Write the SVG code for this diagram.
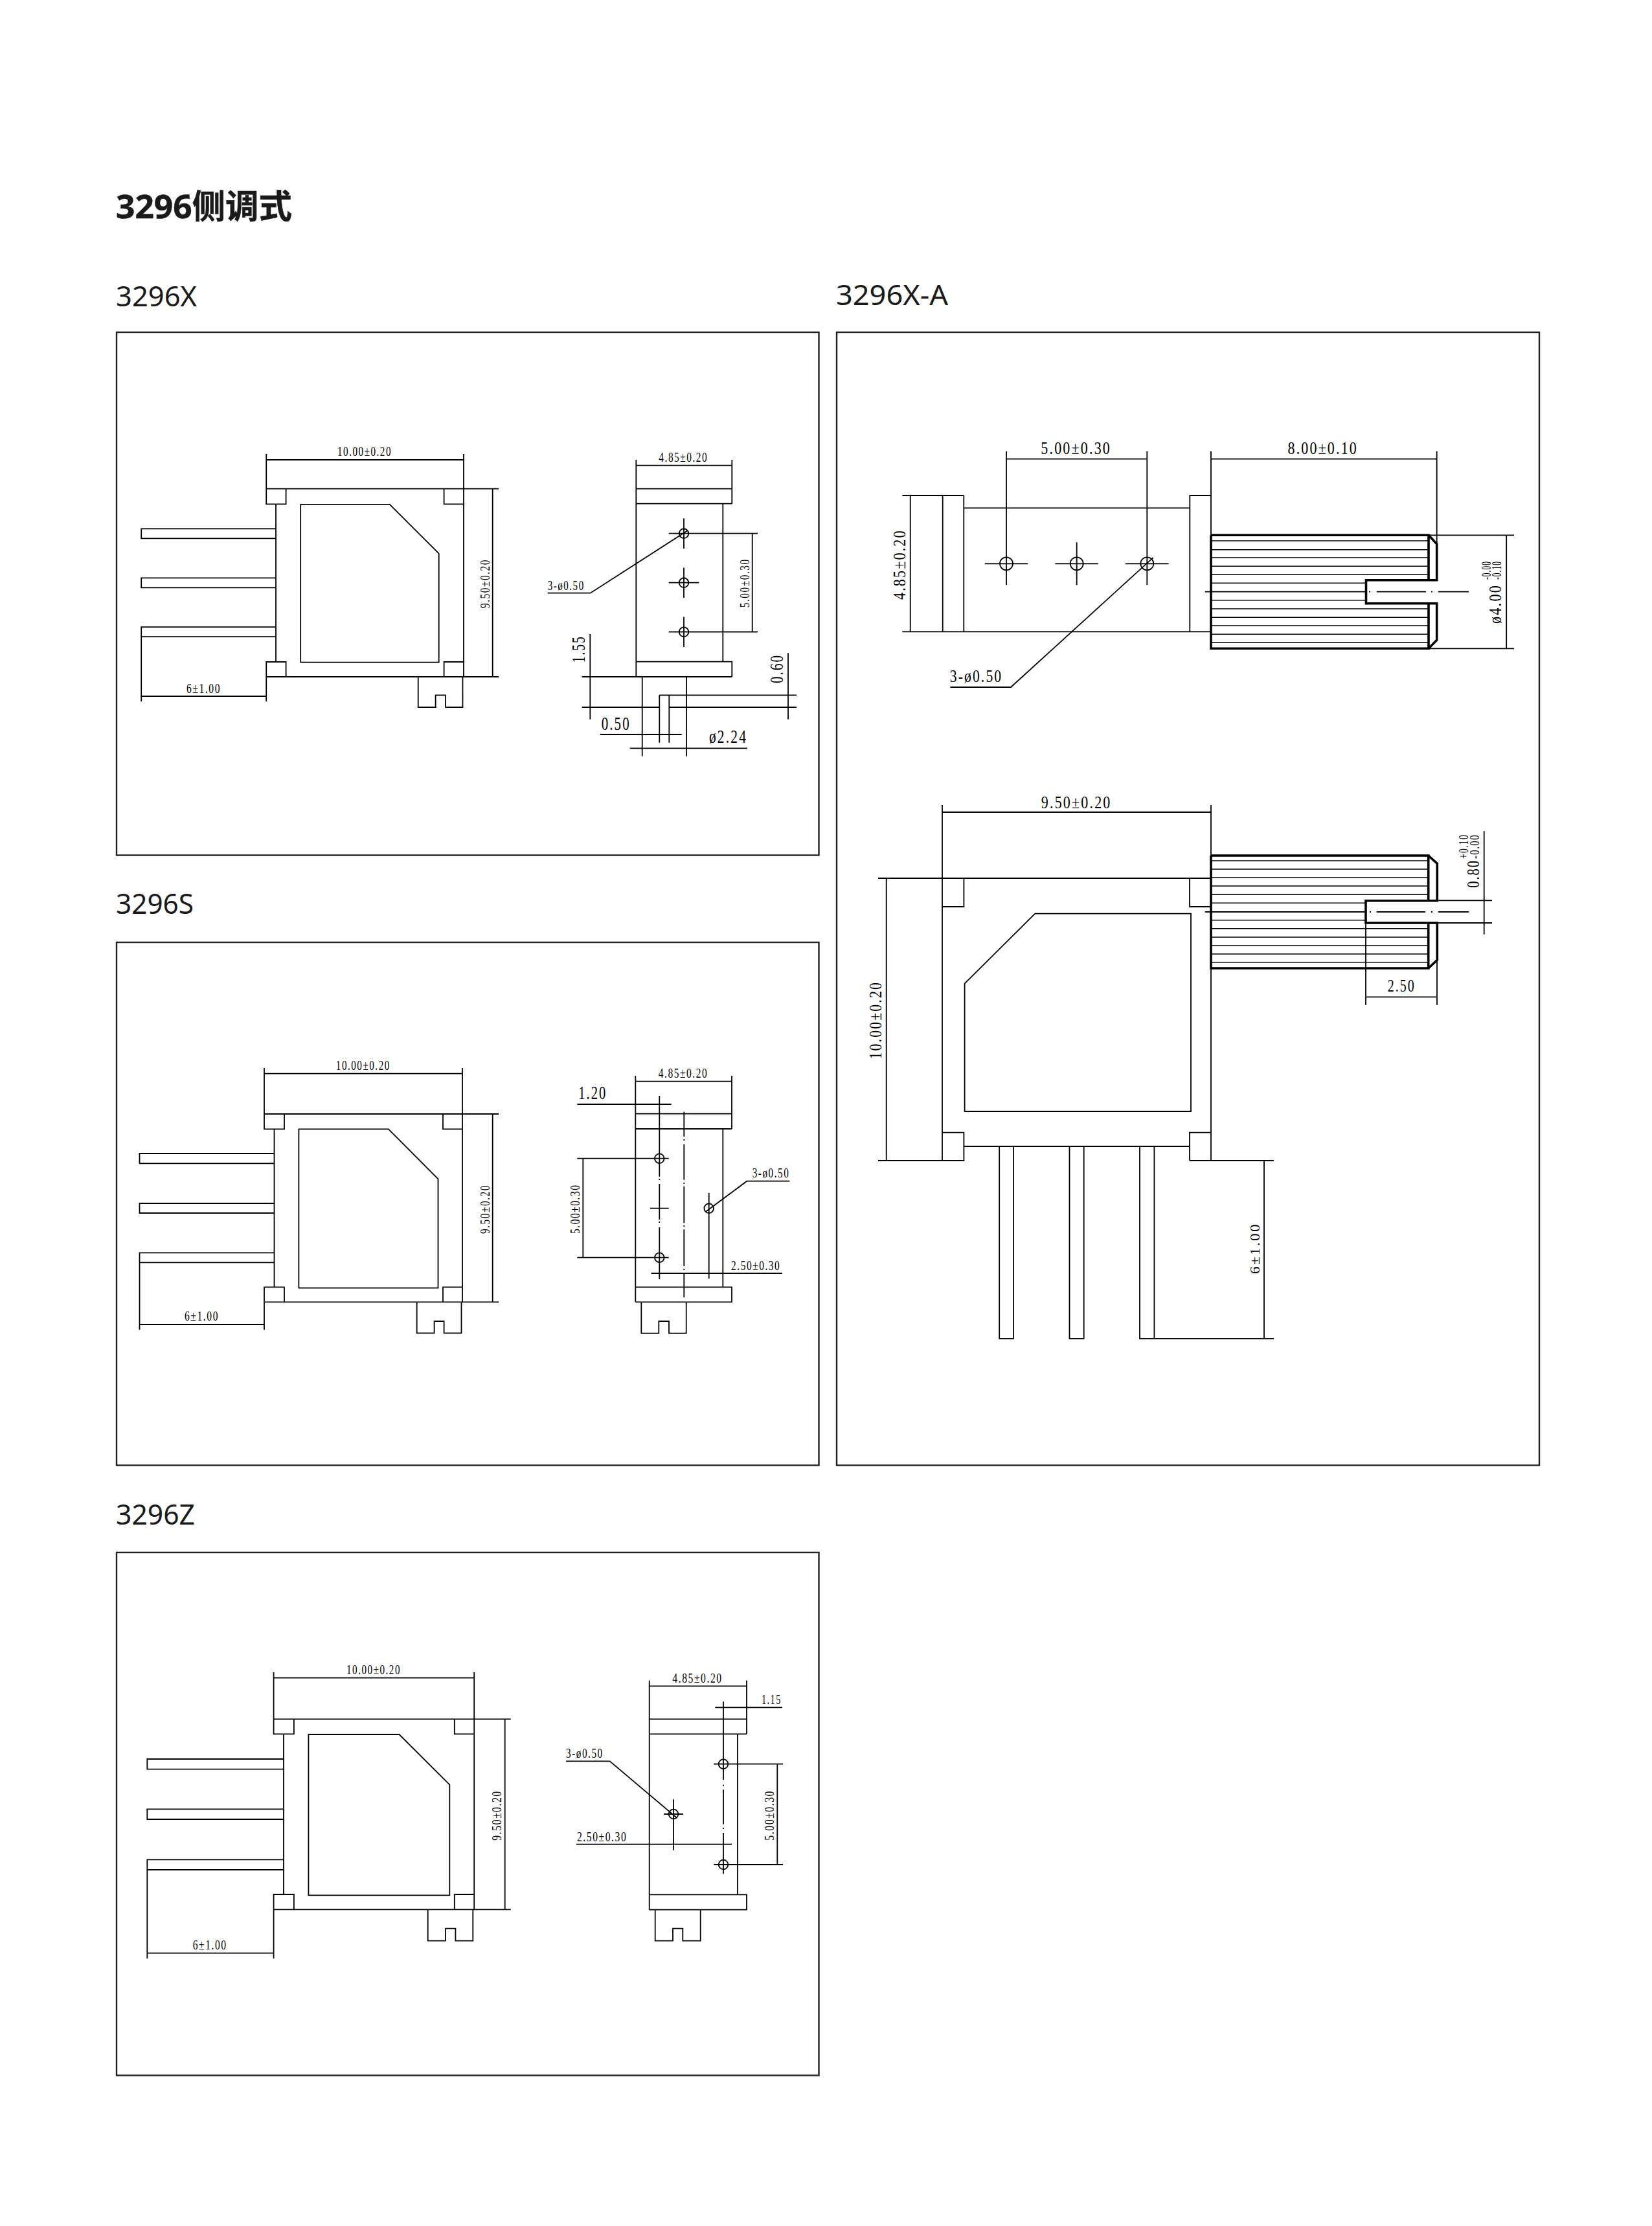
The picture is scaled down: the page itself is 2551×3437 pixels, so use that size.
<svg xmlns="http://www.w3.org/2000/svg" width="2551" height="3437" viewBox="0 0 2551 3437">
<style>
.l{fill:none;stroke:#000;stroke-width:1.8}
.r{fill:none;stroke:#000;stroke-width:1.5}
.k{fill:none;stroke:#000;stroke-width:3.6}
.f{fill:none;stroke:#222;stroke-width:2.4}
.t{font-family:"Liberation Serif",serif;fill:#000;letter-spacing:.1em}
.h{font-family:"Noto Sans","Noto Sans CJK SC",sans-serif;font-size:43px;fill:#1a1a1a}
.b{font-family:"Noto Sans","Noto Sans CJK SC",sans-serif;font-size:51px;font-weight:700;fill:#1a1a1a;stroke:#1a1a1a;stroke-width:.5}
</style>
<rect width="2551" height="3437" fill="#fff"/>
<g id="headings">
<text class="b" x="179" y="337" textLength="272" lengthAdjust="spacingAndGlyphs">3296侧调式</text>
<text class="h" x="179" y="473" textLength="125" lengthAdjust="spacingAndGlyphs">3296X</text>
<text class="h" x="1291" y="471" textLength="173" lengthAdjust="spacingAndGlyphs">3296X-A</text>
<text class="h" x="179" y="1410.7" textLength="120" lengthAdjust="spacingAndGlyphs">3296S</text>
<text class="h" x="179" y="2353.5" textLength="122" lengthAdjust="spacingAndGlyphs">3296Z</text>
</g>
<g id="frames">
<rect class="f" x="180" y="513" width="1084.5" height="807.5"/>
<rect class="f" x="180" y="1455" width="1084.5" height="807.5"/>
<rect class="f" x="180" y="2397" width="1084.5" height="807.5"/>
<rect class="f" x="1292" y="513" width="1085" height="1749.5"/>
</g>
<g id="x-front">
<path class="l" d="M411.2 710H716M411.2 701V778.4H441.6V754.6M716 701V1045M411.2 754.6H770M411.2 1045H770M685.6 754.6V778.4H716M411.2 1045V1022H441.6V1045M685.6 1045V1022H716M426 778.4V1022M464.2 778.8H601.8L677.7 854.7V1022.7H464.2ZM426 816.3H218.2V831.4H426M426 892.3H218.2V907.3H426M426 968.2H218.2V983.2H426M218.2 983.2V1083M411.2 1045V1083M218.2 1075H411.2M760.7 754.6V1045M645.7 1045V1092H672.6V1073.4H688V1092H714.5V1045"/>
<text class="t" x="521" y="704" font-size="20" textLength="84" lengthAdjust="spacingAndGlyphs">10.00±0.20</text>
<text class="t" x="288" y="1070" font-size="20" textLength="53" lengthAdjust="spacingAndGlyphs">6±1.00</text>
<text class="t" transform="translate(756 939) rotate(-90)" font-size="20" textLength="76" lengthAdjust="spacingAndGlyphs">9.50±0.20</text>
</g>
<g id="x-side">
<path class="l" d="M982.3 718.7H1130.3M982.3 710V1045M1130.3 710V777.7M982.3 754.7H1130.3M982.3 777.7H1130.3M1116.3 777.7V1021.7M982.3 1021.7H1130.3V1045M898.7 1045H1130.3"/>
<circle class="l" cx="1056" cy="823.7" r="7.3"/><circle class="l" cx="1056" cy="899.7" r="7.3"/><circle class="l" cx="1056" cy="975.7" r="7.3"/>
<path class="l" d="M1056 800.4V847M1032.7 823.7H1079.3M1056 876.4V923M1032.7 899.7H1079.3M1056 952.4V999M1032.7 975.7H1079.3M1056 823.7H1170M1056 975.7H1170M1161.7 823.7V975.7M1061.7 819.3L911.7 915.7H845.7"/>
<path class="l" d="M911.3 979V1110.7M898.7 1092H1018.3M1033.3 1092H1230M1018.3 1073.3H1230M991.7 1045V1167.7M1060 1045V1167.7M1018.3 1073.3V1146.7M1033.3 1073.3V1146.7M926.7 1134H1052.7M972.7 1155.3H1154M1217 1008.3V1110.7"/>
<text class="t" x="1017.3" y="713.3" font-size="20" textLength="76" lengthAdjust="spacingAndGlyphs">4.85±0.20</text>
<text class="t" transform="translate(1156.7 938.3) rotate(-90)" font-size="20" textLength="76" lengthAdjust="spacingAndGlyphs">5.00±0.30</text>
<text class="t" x="845.7" y="910.7" font-size="20" textLength="57" lengthAdjust="spacingAndGlyphs">3-ø0.50</text>
<text class="t" transform="translate(903.3 1023.3) rotate(-90)" font-size="30" textLength="42" lengthAdjust="spacingAndGlyphs">1.55</text>
<text class="t" x="928.7" y="1126.7" font-size="30" textLength="45" lengthAdjust="spacingAndGlyphs">0.50</text>
<text class="t" x="1095" y="1146.7" font-size="30" textLength="59" lengthAdjust="spacingAndGlyphs">ø2.24</text>
<text class="t" transform="translate(1209.3 1055) rotate(-90)" font-size="30" textLength="45" lengthAdjust="spacingAndGlyphs">0.60</text>
</g>
<g id="s-front">
<path class="l" d="M408 1657.7H714M408 1649V1743.3H439V1720M714 1649V2010.3M408 1720H770M408 2010.3H770M684 1720V1743.3H714M408 2010.3V1987.3H439V2010.3M684 2010.3V1987.3H714M423.5 1743.3V1987.3M461.4 1743.3H599.8L676.5 1820.3V1988.7H461.4ZM423.5 1781H215.5V1796.3H423.5M423.5 1858H215.5V1873H423.5M423.5 1934.3H215.5V1949.3H423.5M215.5 1949.3V2053.3M408 2010.3V2053.3M215.5 2045H408M760.7 1720V2010.3M643.7 2010.3V2058.3H670.6V2040H685.6V2058.3H712.5V2010.3"/>
<text class="t" x="518.8" y="1651.7" font-size="20" textLength="84" lengthAdjust="spacingAndGlyphs">10.00±0.20</text>
<text class="t" x="285" y="2039.3" font-size="20" textLength="53" lengthAdjust="spacingAndGlyphs">6±1.00</text>
<text class="t" transform="translate(756 1905) rotate(-90)" font-size="20" textLength="76" lengthAdjust="spacingAndGlyphs">9.50±0.20</text>
</g>
<g id="s-side">
<path class="l" d="M981.3 1669.7H1130M981.3 1661V2010.3M1130 1661V1743M981.3 1719.7H1130M981.3 1743H1130M1116.3 1743V1987.3M981.3 1987.3H1130V2010.3H981.3M891.3 1705H1036.7"/>
<path class="l" d="M1018.3 1692V1816.7M1018.3 1820V1822M1018.3 1828V1883.3M1018.3 1886V1888M1018.3 1895V1975M1056.3 1716.7V1755M1056.3 1759V1761M1056.3 1766.7V1821.7M1056.3 1826V1828M1056.3 1831.7V1888.3M1056.3 1892V1894M1056.3 1898.3V1955M1056.3 1959V1961M1056.3 1966.7V2003.3"/>
<circle class="l" cx="1018.3" cy="1788.7" r="7.3"/><circle class="l" cx="1018.3" cy="1941.7" r="7.3"/><circle class="l" cx="1094.7" cy="1865.7" r="7.3"/>
<path class="l" d="M1004 1865.7H1032.7M891.3 1788.7H1032.7M891.3 1941.7H1032.7M900.3 1788.7V1941.7M1094.7 1841.7V1974.3M1090 1870.7L1153.3 1823.7H1219.3M1005.7 1966H1208M990.3 2010.3V2058.7H1017.3V2040H1033V2058.7H1059.7V2010.3"/>
<text class="t" x="1016.7" y="1664" font-size="20" textLength="76.6" lengthAdjust="spacingAndGlyphs">4.85±0.20</text>
<text class="t" x="893.3" y="1697.3" font-size="30" textLength="44" lengthAdjust="spacingAndGlyphs">1.20</text>
<text class="t" transform="translate(895.3 1905) rotate(-90)" font-size="20" textLength="76.6" lengthAdjust="spacingAndGlyphs">5.00±0.30</text>
<text class="t" x="1161.7" y="1818.3" font-size="20" textLength="57.6" lengthAdjust="spacingAndGlyphs">3-ø0.50</text>
<text class="t" x="1129" y="1960.7" font-size="20" textLength="76.3" lengthAdjust="spacingAndGlyphs">2.50±0.30</text>
</g>
<g id="z-front">
<path class="l" d="M422.6 2590.7H732.2M422.6 2582V2677.3H453.9V2654.3M732.2 2582V2948.3M422.6 2654.3H788.8M422.6 2948.3H788.8M701.8 2654.3V2677.3H732.2M422.6 2948.3V2925H453.9V2948.3M701.8 2948.3V2925H732.2M438 2677.3V2925M476.4 2678H616.4L694.3 2755.7V2926.3H476.4ZM438 2716H227.3V2731.7H438M438 2793.3H227.3V2809H438M438 2871.3H227.3V2887H438M227.3 2887V3024M422.6 2948.3V3024M227.3 3015.7H422.6M779.7 2654.3V2948.3M660.7 2948.3V2996.7H688V2977.7H703.4V2996.7H730.3V2948.3"/>
<text class="t" x="535" y="2585.3" font-size="20" textLength="84" lengthAdjust="spacingAndGlyphs">10.00±0.20</text>
<text class="t" x="297.7" y="3010" font-size="20" textLength="53" lengthAdjust="spacingAndGlyphs">6±1.00</text>
<text class="t" transform="translate(774 2841.7) rotate(-90)" font-size="20" textLength="77.4" lengthAdjust="spacingAndGlyphs">9.50±0.20</text>
</g>
<g id="z-side">
<path class="l" d="M1002.7 2603.3H1153M1002.7 2594.7V2948.7M1153 2594.7V2677.3M1002.7 2654.3H1153M1002.7 2677.3H1153M1139 2677.3V2925.3M1002.7 2925.3H1153V2948.7H1002.7M1104.3 2636.3H1208"/>
<path class="l" d="M1117 2627.3V2748.3M1117 2755.7V2757.7M1117 2763.3V2816.7M1117 2822V2824M1117 2830V2893.3"/>
<circle class="l" cx="1117" cy="2723.7" r="7.3"/><circle class="l" cx="1117" cy="2879" r="7.3"/><circle class="l" cx="1040" cy="2801" r="7.3"/>
<path class="l" d="M1102.3 2723.7H1209M1102.3 2879H1209M1200.3 2723.7V2879M1025 2801H1055M1040 2778.3V2856.7M1045 2806.7L941.7 2719.3H874M890 2847.7H1130M1011.7 2948.7V2996.7H1039V2977.7H1054.3V2996.7H1081.7V2948.7"/>
<text class="t" x="1038.3" y="2598" font-size="20" textLength="77.4" lengthAdjust="spacingAndGlyphs">4.85±0.20</text>
<text class="t" x="1176" y="2631" font-size="20" textLength="30.7" lengthAdjust="spacingAndGlyphs">1.15</text>
<text class="t" transform="translate(1195 2841.7) rotate(-90)" font-size="20" textLength="77.7" lengthAdjust="spacingAndGlyphs">5.00±0.30</text>
<text class="t" x="874" y="2714" font-size="20" textLength="57.7" lengthAdjust="spacingAndGlyphs">3-ø0.50</text>
<text class="t" x="891" y="2842.7" font-size="20" textLength="77.3" lengthAdjust="spacingAndGlyphs">2.50±0.30</text>
</g>
<g id="xa-top">
<path class="l" d="M1554 708.7H1771.3M1554 696.7V903.3M1771.3 696.7V903.3M1393.3 765H1488.3M1393.3 975.3H1870M1405.7 765V975.3M1455.7 765V975.3M1488.3 765V975.3M1488.3 784.3H1837.3M1837.3 975.3V765H1870"/>
<circle class="l" cx="1554" cy="870.3" r="10"/><circle class="l" cx="1662.7" cy="870.3" r="10"/><circle class="l" cx="1771.3" cy="870.3" r="10"/>
<path class="l" d="M1520.7 870.3H1587.3M1629.4 870.3H1696M1738 870.3H1804.6M1662.7 837.3V903.3M1780.7 861L1561 1061H1467.3M1870 696.7V826M2218.7 696.7V840M1870 708.7H2218.7M2206 826.3H2338M2206 1001.3H2338M2326.2 826.3V1001.3"/>
<path class="r" d="M1870 835H2206M1870 848.7H2206M1870 861H2206M1870 874.3H2206M1870 887.3H2206M1870 900.3H2109.5M1870 926.7H2109.5M1870 940H2206M1870 953.3H2206M1870 966H2206M1870 979.3H2206M1870 992.3H2206"/>
<path class="l" d="M1860.8 913.7H2109.5M2114 913.7H2116M2125.8 913.7H2202M2210 913.7H2212M2220.7 913.7H2268"/>
<path class="k" d="M1870 826.3H2206V895.7M1870 826.3V1001.3H2206V931.7M2206 826.3L2218.7 840V895.7H2109.5V931.7H2218.7V988.3L2206 1001.3"/>
<text class="t" x="1607.3" y="701.3" font-size="28" textLength="108.7" lengthAdjust="spacingAndGlyphs">5.00±0.30</text>
<text class="t" x="1988.5" y="701.3" font-size="28" textLength="108.5" lengthAdjust="spacingAndGlyphs">8.00±0.10</text>
<text class="t" transform="translate(1398.3 926) rotate(-90)" font-size="28" textLength="108.7" lengthAdjust="spacingAndGlyphs">4.85±0.20</text>
<text class="t" x="1466.7" y="1053.3" font-size="28" textLength="81.6" lengthAdjust="spacingAndGlyphs">3-ø0.50</text>
<text class="t" transform="translate(2317.5 963) rotate(-90)" font-size="28" textLength="61" lengthAdjust="spacingAndGlyphs">ø4.00</text>
<text class="t" transform="translate(2301.5 895) rotate(-90)" font-size="20" textLength="29" lengthAdjust="spacingAndGlyphs">-0.00</text>
<text class="t" transform="translate(2318 895) rotate(-90)" font-size="20" textLength="29" lengthAdjust="spacingAndGlyphs">-0.10</text>
</g>
<g id="xa-front">
<path class="l" d="M1455 1254H1870M1455 1242.9V1792M1870 1242.9V1792M1356 1356H1870M1356 1792H1488.4V1748.7H1455M1488.4 1356V1400H1455M1837 1356V1400H1870M1488.4 1770H1837M1837 1792V1748.7H1870M1837 1792H1967M1489.6 1518.7L1598.3 1410.7H1839V1716H1489.6ZM1368.7 1356V1792"/>
<path class="l" d="M1543.2 1770V2066.8H1565V1770M1651.5 1770V2066.8H1673.7V1770M1760 1770V2066.8H1782.4V1770M1782.4 2066.8H1967M1952 1792V2066.8"/>
<path class="l" d="M2109 1425V1551.7M2219 1482V1551.7M2109 1539.3H2219M2219.3 1390.3H2304M2219.3 1425H2304M2291.7 1283.3V1442.7"/>
<path class="r" d="M1870 1329H2205.7M1870 1342H2205.7M1870 1355H2205.7M1870 1368H2205.7M1870 1381.3H2205.7M1870 1394.3H2109M1870 1420.7H2109M1870 1433.7H2205.7M1870 1447H2205.7M1870 1460H2205.7M1870 1473H2205.7M1870 1485.7H2205.7"/>
<path class="l" d="M1860.7 1408H2109M2115 1408H2117M2125.7 1408H2201M2210 1408H2212M2220.7 1408H2268.3"/>
<path class="k" d="M1870 1321H2205.7V1390.7M1870 1321V1495H2205.7V1425M2205.7 1321L2219.3 1333.3V1390.7H2109V1425H2219.3V1482.3L2205.7 1495"/>
<text class="t" x="1607.8" y="1248" font-size="28" textLength="108.7" lengthAdjust="spacingAndGlyphs">9.50±0.20</text>
<text class="t" transform="translate(1360.6 1635.5) rotate(-90)" font-size="28" textLength="120.5" lengthAdjust="spacingAndGlyphs">10.00±0.20</text>
<text class="t" transform="translate(1945 1967) rotate(-90)" font-size="20" textLength="79" lengthAdjust="spacingAndGlyphs">6±1.00</text>
<text class="t" x="2142.7" y="1530.7" font-size="28" textLength="43" lengthAdjust="spacingAndGlyphs">2.50</text>
<text class="t" transform="translate(2284 1370.7) rotate(-90)" font-size="28" textLength="43.7" lengthAdjust="spacingAndGlyphs">0.80</text>
<text class="t" transform="translate(2266.7 1326) rotate(-90)" font-size="20" textLength="38" lengthAdjust="spacingAndGlyphs">+0.10</text>
<text class="t" transform="translate(2284 1326) rotate(-90)" font-size="20" textLength="38" lengthAdjust="spacingAndGlyphs">-0.00</text>
</g>
</svg>
